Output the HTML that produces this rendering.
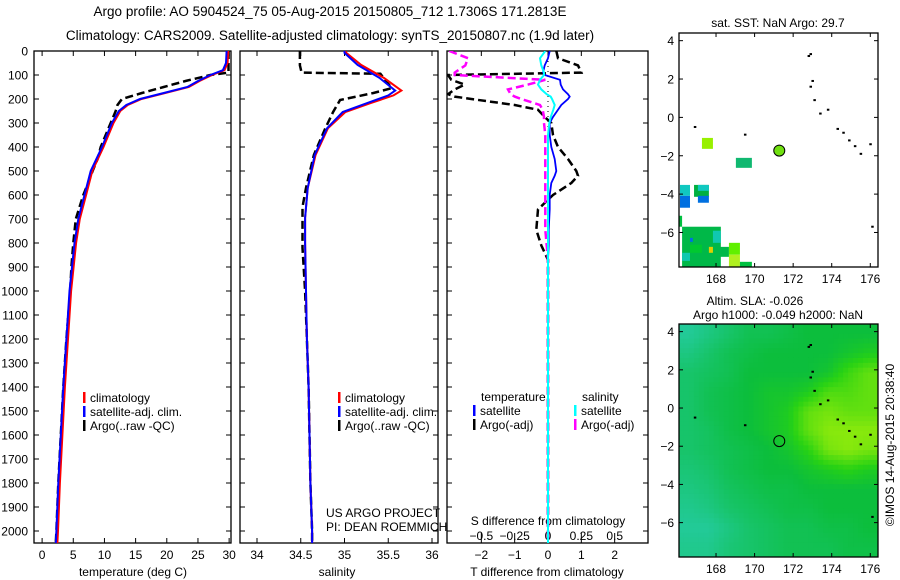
<!DOCTYPE html>
<html><head><meta charset="utf-8">
<style>
body{margin:0;background:#fff;}
svg{display:block;font-family:"Liberation Sans",sans-serif;}
text{fill:#000;}
</style></head>
<body>
<svg id="c" width="900" height="580" viewBox="0 0 900 580" xmlns="http://www.w3.org/2000/svg">
<text x="330" y="16" font-size="13.5" text-anchor="middle">Argo profile: AO 5904524_75 05-Aug-2015 20150805_712 1.7306S 171.2813E</text>
<text x="330" y="40" font-size="13.5" text-anchor="middle">Climatology: CARS2009. Satellite-adjusted climatology: synTS_20150807.nc (1.9d later)</text>
<g id="g"></g>
</svg>
<script>
// ---- data ----
const tDepth = [0,50,80,100,125,150,175,200,225,250,300,400,500,600,700,800,900,1000,1200,1400,1600,1800,2000,2050];
const tClim  = [29.6,29.5,29,27,25,23.3,19.5,15.7,13.5,12.3,11.2,9.6,7.8,6.8,5.8,5.2,4.8,4.4,3.9,3.4,3.0,2.6,2.3,2.2];
const tArgoDepth = [0,90,95,100,125,150,175,200,225,250,300,400,450,500,550,600,700,800,900,1000,1200,1400,1600,1800,2000,2050];
const tArgo = [29.9,29.9,28.5,27,23,19.5,16,12.8,12.1,11.8,11,9.4,8.9,8.1,7.4,6.6,5.4,5.0,4.7,4.5,3.9,3.4,3.0,2.6,2.3,2.2];
const sDepth = [0,8,58,112,165,185,217,254,322,433,571,695,800,1000,1200,1400,1600,1800,2000,2050];
const sClim  = [35.0,35.0,35.15,35.4,35.58,35.5,35.26,34.98,34.8,34.66,34.58,34.55,34.55,34.56,34.57,34.59,34.6,34.61,34.63,34.63];
const sClimRed = [35.01,35.02,35.19,35.45,35.65,35.56,35.3,35.01,34.81,34.67,34.58,34.55,34.55,34.56,34.57,34.59,34.6,34.61,34.63,34.63];
const sArgoDepth = [0,60,90,95,155,175,204,254,322,433,571,650,820,1000,1200,1400,1600,1800,2000,2050];
const sArgo = [34.49,34.49,34.51,35.41,35.54,35.33,34.95,34.87,34.78,34.65,34.56,34.52,34.52,34.55,34.57,34.59,34.6,34.61,34.63,34.63];
const dDepth = [0,30,60,90,100,120,140,160,180,190,200,225,245,275,300,350,400,450,500,520,550,600,660,745,810,870,1000,1500,2050];
const dTsat = [0.05,0.0,-0.1,-0.15,-0.1,0.36,0.38,0.45,0.6,0.65,0.6,0.4,0.3,0.15,0.05,0.05,0.1,0.2,0.25,0.2,0.1,0.05,0.05,0.02,0.02,0.0,0.0,0.0,0.0];
const dSsat = [-0.02,-0.06,-0.05,-0.03,-0.03,-0.06,-0.075,-0.05,-0.01,0.02,0.03,0.05,0.04,0.02,0.01,0.0,0.0,0.0,0.0,0.0,0.0,0.0,0.0,0.0,0.0,0.0,0.0,0.0,0.0];
const dTargo = [0.25,0.3,0.9,1.0,-3.0,-2.9,-2.5,-2.8,-3.0,-2.8,-2.3,-1.0,-0.3,-0.1,0.1,0.15,0.3,0.6,0.85,0.9,0.7,0.15,-0.3,-0.35,-0.2,0.0,0.0,0.0,0.0];
const dSargo = [-0.74,-0.6,-0.62,-0.7,-0.7,-0.02,-0.15,-0.3,-0.28,-0.25,-0.2,-0.06,-0.04,-0.03,-0.03,-0.02,-0.02,-0.02,-0.02,-0.02,-0.02,-0.02,-0.02,-0.02,-0.01,0.0,0.0,0.0,0.0];
const depthTicks = [0,100,200,300,400,500,600,700,800,900,1000,1100,1200,1300,1400,1500,1600,1700,1800,1900,2000];
const tTicks = [0,5,10,15,20,25,30];
const sTicks = [34,34.5,35,35.5,36];
const dTTicks = [-2,-1,0,1,2];
const dSTicks = [-0.5,-0.25,0,0.25,0.5];
const dSLabels = ['\u22120.5','\u22120.25','0','0.25','0.5'];
const latTicks = [4,2,0,-2,-4,-6];
const lonTicks = [168,170,172,174,176];
// [lonW, latN, lonE, latS, colour]
const sstCells = [
[167.27,-1.07,167.84,-1.64,'#98f000'],[169.03,-2.11,169.86,-2.63,'#10b870'],
[166.13,-3.52,166.65,-4.09,'#10c8c0'],[166.13,-4.09,166.65,-4.71,'#0070e0'],
[166.86,-3.52,167.63,-4.14,'#00b040'],[167.06,-3.52,167.63,-3.83,'#10c8c0'],
[167.06,-4.09,167.63,-4.45,'#0070e0'],[166.08,-5.13,166.24,-5.70,'#00c040'],
[166.24,-5.70,168.25,-7.8,'#00b848'],[167.84,-5.91,168.25,-6.54,'#10c8b0'],
[166.24,-7.06,166.65,-7.48,'#10c8b0'],[166.65,-6.64,167.27,-7.06,'#00c830'],
[167.63,-6.75,167.84,-7.06,'#e0d000'],[168.1,-6.75,168.67,-7.27,'#00b848'],
[168.67,-6.54,169.24,-7.16,'#60f000'],[168.67,-7.16,169.24,-7.8,'#b0f020'],
[169.24,-7.53,169.86,-7.8,'#00c040'],[166.65,-6.28,166.8,-6.49,'#0070e0']];
const slaGrid = [
[0.1,0.2,0.3,0.4,0.4,0.45,0.5,0.5,0.5,0.5],
[0.2,0.3,0.4,0.45,0.5,0.5,0.5,0.5,0.55,0.6],
[0.3,0.35,0.4,0.5,0.5,0.5,0.5,0.55,0.7,0.8],
[0.3,0.4,0.45,0.5,0.55,0.55,0.6,0.75,0.75,0.8],
[0.3,0.4,0.45,0.5,0.55,0.6,0.8,0.85,0.8,0.8],
[0.3,0.35,0.45,0.5,0.55,0.6,0.8,0.9,0.9,0.9],
[0.3,0.35,0.4,0.45,0.5,0.55,0.65,0.85,0.9,0.85],
[0.25,0.3,0.4,0.45,0.5,0.5,0.55,0.6,0.65,0.6],
[0.2,0.25,0.35,0.4,0.45,0.45,0.5,0.5,0.5,0.5],
[0.15,0.2,0.3,0.35,0.4,0.45,0.45,0.5,0.5,0.5],
[0.1,0.1,0.2,0.3,0.35,0.4,0.4,0.45,0.45,0.5],
[0.15,0.15,0.25,0.3,0.35,0.4,0.4,0.4,0.45,0.45]];
const argoLon = 171.28, argoLat = -1.73;
const coastLon = [172.8,172.9,173.0,172.9,173.1,173.4,173.8,174.3,174.6,174.9,175.2,175.5,176.0,176.1,166.9,169.5];
const coastLat = [3.2,3.3,1.9,1.6,0.9,0.2,0.4,-0.6,-0.8,-1.2,-1.5,-1.9,-1.4,-5.7,-0.5,-0.9];

// ---- drawing ----
const NS='http://www.w3.org/2000/svg';
const G=document.getElementById('g');
function mk(tag,attrs,parent){const e=document.createElementNS(NS,tag);for(const k in attrs)e.setAttribute(k,attrs[k]);(parent||G).appendChild(e);return e;}
function txt(x,y,s,size,anchor,parent){const t=mk('text',{x:x,y:y,'font-size':size,'text-anchor':anchor||'middle'},parent);t.textContent=s;return t;}
const TOP=51, BOT=543;
const yD=d=>TOP+(d/2050)*(BOT-TOP);
function lin(d0,d1,p0,p1){return v=>p0+(v-d0)/(d1-d0)*(p1-p0);}
const xT=lin(-1.3,30.3,34,231);
const xS=lin(34,36,257,432);
const xDT=lin(-3.03,3,447,648);
const xDS=v=>xDT(v*4);

function frame(x0,x1,name,xs,xticks,ticksTop){
  const r=mk('rect',{x:x0,y:TOP,width:x1-x0,height:BOT-TOP,fill:'none',stroke:'#000','stroke-width':1.3});
  
  
  xticks.forEach(v=>{const X=xs(v);mk('line',{x1:X,x2:X,y1:BOT,y2:BOT-5,stroke:'#000'});if(ticksTop)mk('line',{x1:X,x2:X,y1:TOP,y2:TOP+5,stroke:'#000'});});
  depthTicks.forEach(d=>{mk('line',{x1:x0,x2:x0+5,y1:yD(d),y2:yD(d),stroke:'#000'});mk('line',{x1:x1,x2:x1-5,y1:yD(d),y2:yD(d),stroke:'#000'});});
}
function path(xs,vals,depths,color,w,dash,name,parent){
  const pts=vals.map((v,i)=>xs(v).toFixed(1)+','+yD(depths[i]).toFixed(1));
  const p=mk('polyline',{points:pts.join(' '),fill:'none',stroke:color,'stroke-width':w,'stroke-dasharray':dash||'none'},parent);
  
  
  return p;
}
const clip=(id,x0,x1)=>{const c=mk('clipPath',{id:id});mk('rect',{x:x0,y:TOP,width:x1-x0,height:BOT-TOP},c);const g=mk('g',{'clip-path':'url(#'+id+')'});return g;};

// Panel 1
frame(34,231,'temperature-panel',xT,tTicks,true);
depthTicks.forEach(d=>txt(28,yD(d)+4.5,String(d),12,'end'));
tTicks.forEach(v=>txt(xT(v),559,String(v),12));
txt(133,576,'temperature (deg C)',12);
let c1=clip('c1',34,231);
path(xT,tArgo,tArgoDepth,'#000',2.5,'8,4','temp-argo-line',c1);
path(xT,tClim.map(v=>v+0.25),tDepth,'#f00',2,null,'temp-climatology-line',c1);
path(xT,tClim,tDepth,'#00f',2,null,'temp-satellite-line',c1);

// Panel 2
frame(240,438,'salinity-panel',xS,sTicks,true);
sTicks.forEach(v=>txt(xS(v),559,String(v),12));
txt(337,576,'salinity',12);
let c2=clip('c2',240,438);
path(xS,sArgo,sArgoDepth,'#000',2.5,'8,4','salinity-argo-line',c2);
path(xS,sClimRed,sDepth,'#f00',2,null,'salinity-climatology-line',c2);
path(xS,sClim,sDepth,'#00f',2,null,'salinity-satellite-line',c2);

// Panel 3
frame(447,648,'difference-panel',xDT,dTTicks,true);
dSTicks.forEach(v=>{const X=xDS(v);mk('line',{x1:X,x2:X,y1:BOT-10,y2:BOT-5,stroke:'#000'});});
dTTicks.forEach(v=>txt(xDT(v),559,String(v).replace('-','\u2212'),12));
dSTicks.forEach((v,i)=>txt(xDS(v),540,dSLabels[i],12));
txt(548,525,'S difference from climatology',12);
txt(547,576,'T difference from climatology',12);
let c3=clip('c3',447,648);
mk('line',{x1:xDT(0),x2:xDT(0),y1:TOP,y2:BOT,stroke:'#000','stroke-dasharray':'1,4'},c3);
path(xDT,dTargo,dDepth,'#000',2.5,'8,4','temp-diff-argo-line',c3);
path(xDS,dSargo,dDepth,'#f0f',2.5,'8,4','sal-diff-argo-line',c3);
path(xDT,dTsat,dDepth,'#00f',1.8,null,'temp-diff-satellite-line',c3);
path(xDS,dSsat,dDepth,'#0ff',2,null,'sal-diff-satellite-line',c3);

// Legends
function leg(x,y,color,label,name){
  const g=mk('g',{});
  mk('rect',{x:x,y:y-10,width:2.5,height:11,fill:color},g);
  txt(x+7,y,label,12,'start',g);
}
[[83,'temp'],[338,'sal']].forEach(([x,n])=>{
  leg(x,402,'#f00','climatology',n+'-legend-climatology');
  leg(x,416,'#00f','satellite-adj. clim.',n+'-legend-satellite');
  leg(x,430,'#000','Argo(..raw -QC)',n+'-legend-argo');
});
txt(481,401,'temperature',12,'start');
txt(582,401,'salinity',12,'start');
leg(473,415,'#00f','satellite','diff-legend-temp-satellite');
leg(473,429,'#000','Argo(-adj)','diff-legend-temp-argo');
leg(574,415,'#0ff','satellite','diff-legend-sal-satellite');
leg(574,429,'#f0f','Argo(-adj)','diff-legend-sal-argo');
txt(326,517,'US ARGO PROJECT',12,'start');
txt(326,531,'PI: DEAN ROEMMICH',12,'start');

// Maps
const MX0=679,MX1=878;
const xL=lin(166.08,176.4,MX0,MX1);
function map(y0,y1,name,id){
  const yL=lin(4.4,-7.8,y0,y1);
  const c=mk('clipPath',{id:id});mk('rect',{x:MX0,y:y0,width:MX1-MX0,height:y1-y0},c);
  const g=mk('g',{'clip-path':'url(#'+id+')'});
  return {yL,g,y0,y1};
}
function mapFrame(m,name){
  const r=mk('rect',{x:MX0,y:m.y0,width:MX1-MX0,height:m.y1-m.y0,fill:'none',stroke:'#000','stroke-width':1.3});
  
  latTicks.forEach(v=>{const Y=m.yL(v);mk('line',{x1:MX0,x2:MX0+4,y1:Y,y2:Y,stroke:'#000'});mk('line',{x1:MX1,x2:MX1-4,y1:Y,y2:Y,stroke:'#000'});txt(674,Y+4.5,String(v).replace('-','\u2212'),12,'end');});
  lonTicks.forEach(v=>{const X=xL(v);mk('line',{x1:X,x2:X,y1:m.y0,y2:m.y0+4,stroke:'#000'});mk('line',{x1:X,x2:X,y1:m.y1,y2:m.y1-4,stroke:'#000'});txt(X,m.y1+16,String(v),12);});
  coastLon.forEach((lo,i)=>{mk('rect',{x:xL(lo)-1,y:m.yL(coastLat[i])-1,width:2.5,height:2,fill:'#000'});});
}
const m1=map(33,267,'sst-map','cm1');
sstCells.forEach(c=>{const x=xL(c[0]),y=m1.yL(c[1]);
  const r=mk('rect',{x:x,y:y,width:xL(c[2])-x,height:m1.yL(c[3])-y,fill:c[4]},m1.g);
  
  });
mapFrame(m1,'sst-map');
mk('circle',{cx:xL(argoLon),cy:m1.yL(argoLat),r:5.5,fill:'#70e010',stroke:'#000','stroke-width':1});
txt(778,27,'sat. SST: NaN Argo: 29.7',12);

const m2=map(324,557,'sla-map','cm2');
const stops=[[0,[40,205,175]],[0.5,[12,190,60]],[0.65,[40,210,20]],[1,[175,242,10]]];
function cmap(v){for(let i=1;i<stops.length;i++){if(v<=stops[i][0]){const a=stops[i-1],b=stops[i],t=(v-a[0])/(b[0]-a[0]);return 'rgb('+a[1].map((c,k)=>Math.round(c+(b[1][k]-c)*t)).join(',')+')';}}return 'rgb(175,242,10)';}
const nR=slaGrid.length,nC=slaGrid[0].length,SUB=4;
const cw=(MX1-MX0)/(nC*SUB),ch=(m2.y1-m2.y0)/(nR*SUB);
function sample(r,c){
  const rr=Math.min(Math.max(r,0),nR-1),cc=Math.min(Math.max(c,0),nC-1);
  const r0=Math.floor(rr),c0=Math.floor(cc),r1=Math.min(r0+1,nR-1),c1=Math.min(c0+1,nC-1),fr=rr-r0,fc=cc-c0;
  return (slaGrid[r0][c0]*(1-fc)+slaGrid[r0][c1]*fc)*(1-fr)+(slaGrid[r1][c0]*(1-fc)+slaGrid[r1][c1]*fc)*fr;
}
for(let i=0;i<nR*SUB;i++)for(let j=0;j<nC*SUB;j++){
  const v=sample((i+0.5)/SUB-0.5,(j+0.5)/SUB-0.5);
  const r=mk('rect',{x:MX0+j*cw,y:m2.y0+i*ch,width:cw+0.5,height:ch+0.5,fill:cmap(v)},m2.g);
  
  
}
mapFrame(m2,'sla-map');
mk('circle',{cx:xL(argoLon),cy:m2.yL(argoLat),r:5.5,fill:'none',stroke:'#000','stroke-width':1});
txt(755,305,'Altim. SLA: -0.026',12);
txt(778,319,'Argo h1000: -0.049 h2000: NaN',12);
const rt=txt(0,0,'\u00A9IMOS 14-Aug-2015 20:38:40',12);
rt.setAttribute('transform','translate(894,445) rotate(-90)');


</script>
</body></html>
